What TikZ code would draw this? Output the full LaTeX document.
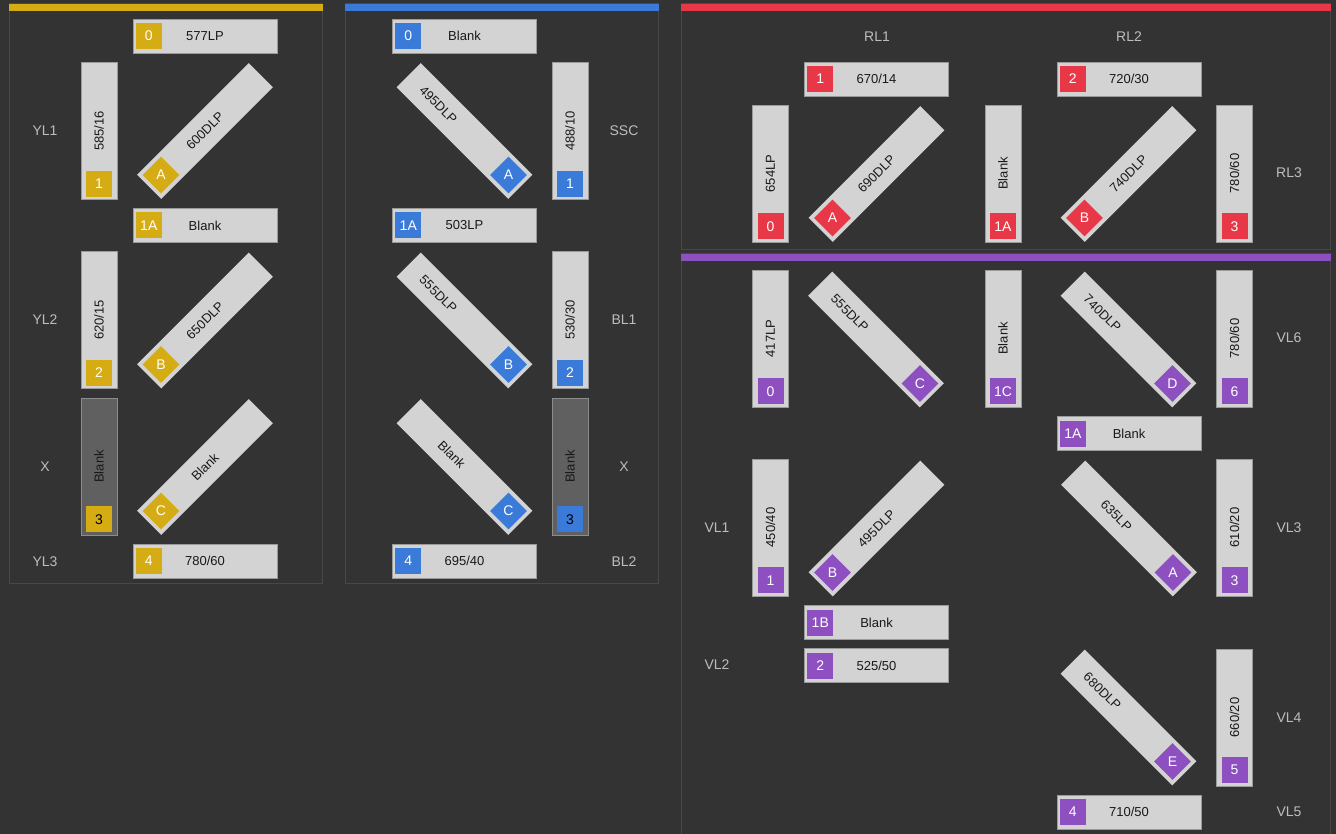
\documentclass[tikz,border=0pt]{standalone}
\usepackage{fontspec}
\setmainfont{Liberation Sans}
\usepackage{tikz}
\usetikzlibrary{calc,shapes.geometric}
\definecolor{bg}{HTML}{333333}
\definecolor{frame}{HTML}{484848}
\definecolor{soft}{HTML}{D3D3D3}
\definecolor{softline}{HTML}{9A9A9A}
\definecolor{blankfill}{HTML}{606060}
\definecolor{lanetext}{HTML}{BDBDBD}
\definecolor{laneY}{HTML}{D6AC14}
\definecolor{laneB}{HTML}{3A7AD9}
\definecolor{laneR}{HTML}{E83848}
\definecolor{laneV}{HTML}{8E50C0}

\begin{document}
\begin{tikzpicture}[x=1pt,y=-1pt,
  every node/.style={inner sep=0pt,text=black!90,font=\fontsize{13}{15}\selectfont},
  hbox/.style={draw=softline,fill=soft,minimum width=144pt,minimum height=34pt},
  vbox/.style={hbox,minimum width=137pt,minimum height=36pt,rotate=90},
  dark/.style={fill=blankfill,draw=black!45},
  dbox/.style={fill=soft,minimum width=158pt,minimum height=34pt,rotate=#1},
  badge/.style={fill=#1,minimum size=26pt,text=white,font=\fontsize{14}{16}\selectfont},
  dbadge/.style={badge=#1,diamond,minimum size=37pt},
  lane/.style={text=lanetext,font=\fontsize{14}{16}\selectfont},
  panel/.style={draw=frame,line width=1pt}]
  \useasboundingbox[fill=bg] (0,0) rectangle (1336,834);

  % panels
  \draw[panel] (9.5,4) rectangle (322.5,583.5);
  \fill[laneY] (9,4) rectangle (323,11);
  \draw[panel] (345.5,4) rectangle (658.5,583.5);
  \fill[laneB] (345,4) rectangle (659,11);
  \draw[panel] (681.5,4) rectangle (1330.5,249.5);
  \fill[laneR] (681,4) rectangle (1331,11);
  \draw[panel] (681.5,845) -- (681.5,254) -- (1330.5,254) -- (1330.5,845);
  \fill[laneV] (681,254) rectangle (1331,261);

  % yellow
  \node[hbox] (y0) at (205,36) {577LP};
  \node[badge=laneY] (y0b) at ($(y0.west)!16pt!(y0.east)$) {0};
  \node[vbox] (y1) at (99,131) {585/16};
  \node[badge=laneY] (y1b) at ($(y1.west)!16pt!(y1.east)$) {1};
  \node[dbox=45] (yA) at (205,131) {600DLP};
  \node[dbadge=laneY] (yAb) at ($(yA.west)!17pt!(yA.east)$) {A};
  \node[hbox] (y1A) at (205,225.5) {Blank};
  \node[badge=laneY] (y1Ab) at ($(y1A.west)!16pt!(y1A.east)$) {1A};
  \node[vbox] (y2) at (99,320) {620/15};
  \node[badge=laneY] (y2b) at ($(y2.west)!16pt!(y2.east)$) {2};
  \node[dbox=45] (yB) at (205,320.5) {650DLP};
  \node[dbadge=laneY] (yBb) at ($(yB.west)!17pt!(yB.east)$) {B};
  \node[vbox,dark] (y3) at (99,466.5) {Blank};
  \node[badge=laneY,text=black] (y3b) at ($(y3.west)!16pt!(y3.east)$) {3};
  \node[dbox=45] (yC) at (205,467) {Blank};
  \node[dbadge=laneY] (yCb) at ($(yC.west)!17pt!(yC.east)$) {C};
  \node[hbox] (y4) at (205,561) {780/60};
  \node[badge=laneY] (y4b) at ($(y4.west)!16pt!(y4.east)$) {4};
  \node[lane] (yl1) at (45,131) {YL1};
  \node[lane] (yl2) at (45,320) {YL2};
  \node[lane] (yx) at (45,467) {X};
  \node[lane] (yl3) at (45,562) {YL3};

  % blue
  \node[hbox] (b0) at (464.5,36) {Blank};
  \node[badge=laneB] (b0b) at ($(b0.west)!16pt!(b0.east)$) {0};
  \node[dbox=-45] (bA) at (464.5,131) {};
  \node[rotate=-45] (bAt) at ($(bA.center)!37pt!(bA.west)$) {495DLP};
  \node[dbadge=laneB] (bAb) at ($(bA.east)!17pt!(bA.west)$) {A};
  \node[vbox] (b1) at (570,131) {488/10};
  \node[badge=laneB] (b1b) at ($(b1.west)!16pt!(b1.east)$) {1};
  \node[hbox] (b1A) at (464.5,225.5) {503LP};
  \node[badge=laneB] (b1Ab) at ($(b1A.west)!16pt!(b1A.east)$) {1A};
  \node[dbox=-45] (bB) at (464.5,320.5) {};
  \node[rotate=-45] (bBt) at ($(bB.center)!37pt!(bB.west)$) {555DLP};
  \node[dbadge=laneB] (bBb) at ($(bB.east)!17pt!(bB.west)$) {B};
  \node[vbox] (b2) at (570,320) {530/30};
  \node[badge=laneB] (b2b) at ($(b2.west)!16pt!(b2.east)$) {2};
  \node[dbox=-45] (bC) at (464.5,467) {};
  \node[rotate=-45] (bCt) at ($(bC.center)!18pt!(bC.west)$) {Blank};
  \node[dbadge=laneB] (bCb) at ($(bC.east)!17pt!(bC.west)$) {C};
  \node[vbox,dark] (b3) at (570,466.5) {Blank};
  \node[badge=laneB,text=black] (b3b) at ($(b3.west)!16pt!(b3.east)$) {3};
  \node[hbox] (b4) at (464.5,561) {695/40};
  \node[badge=laneB] (b4b) at ($(b4.west)!16pt!(b4.east)$) {4};
  \node[lane] (ssc) at (624,131) {SSC};
  \node[lane] (bl1) at (624,320) {BL1};
  \node[lane] (bx) at (624,467) {X};
  \node[lane] (bl2) at (624,562) {BL2};

  % red
  \node[lane] (rl1) at (877,37) {RL1};
  \node[lane] (rl2) at (1129,37) {RL2};
  \node[lane] (rl3) at (1289,173) {RL3};
  \node[hbox] (r1) at (876.5,79) {670/14};
  \node[badge=laneR] (r1b) at ($(r1.west)!16pt!(r1.east)$) {1};
  \node[hbox] (r2) at (1129,79) {720/30};
  \node[badge=laneR] (r2b) at ($(r2.west)!16pt!(r2.east)$) {2};
  \node[vbox] (r0) at (770.5,173.5) {654LP};
  \node[badge=laneR] (r0b) at ($(r0.west)!16pt!(r0.east)$) {0};
  \node[dbox=45] (rA) at (876.5,174) {690DLP};
  \node[dbadge=laneR] (rAb) at ($(rA.west)!17pt!(rA.east)$) {A};
  \node[vbox] (r1A) at (1003,173.5) {Blank};
  \node[badge=laneR] (r1Ab) at ($(r1A.west)!16pt!(r1A.east)$) {1A};
  \node[dbox=45] (rB) at (1128.5,174) {740DLP};
  \node[dbadge=laneR] (rBb) at ($(rB.west)!17pt!(rB.east)$) {B};
  \node[vbox] (r3) at (1234.5,173.5) {780/60};
  \node[badge=laneR] (r3b) at ($(r3.west)!16pt!(r3.east)$) {3};

  % violet
  \node[vbox] (v0) at (770.5,338.5) {417LP};
  \node[badge=laneV] (v0b) at ($(v0.west)!16pt!(v0.east)$) {0};
  \node[dbox=-45] (vC) at (876,339.5) {};
  \node[rotate=-45] (vCt) at ($(vC.center)!37pt!(vC.west)$) {555DLP};
  \node[dbadge=laneV] (vCb) at ($(vC.east)!17pt!(vC.west)$) {C};
  \node[vbox] (v1C) at (1003,338.5) {Blank};
  \node[badge=laneV] (v1Cb) at ($(v1C.west)!16pt!(v1C.east)$) {1C};
  \node[dbox=-45] (vD) at (1128.5,339.5) {};
  \node[rotate=-45] (vDt) at ($(vD.center)!37pt!(vD.west)$) {740DLP};
  \node[dbadge=laneV] (vDb) at ($(vD.east)!17pt!(vD.west)$) {D};
  \node[vbox] (v6) at (1234.5,338.5) {780/60};
  \node[badge=laneV] (v6b) at ($(v6.west)!16pt!(v6.east)$) {6};
  \node[hbox] (v1A) at (1129,433.5) {Blank};
  \node[badge=laneV] (v1Ab) at ($(v1A.west)!16pt!(v1A.east)$) {1A};
  \node[vbox] (v1) at (770.5,527.5) {450/40};
  \node[badge=laneV] (v1b) at ($(v1.west)!16pt!(v1.east)$) {1};
  \node[dbox=45] (vB) at (876.5,528.5) {495DLP};
  \node[dbadge=laneV] (vBb) at ($(vB.west)!17pt!(vB.east)$) {B};
  \node[dbox=-45] (vA) at (1129,528.5) {};
  \node[rotate=-45] (vAt) at ($(vA.center)!18pt!(vA.west)$) {635LP};
  \node[dbadge=laneV] (vAb) at ($(vA.east)!17pt!(vA.west)$) {A};
  \node[vbox] (v3) at (1234.5,527.5) {610/20};
  \node[badge=laneV] (v3b) at ($(v3.west)!16pt!(v3.east)$) {3};
  \node[hbox] (v1B) at (876.5,622.5) {Blank};
  \node[badge=laneV] (v1Bb) at ($(v1B.west)!16pt!(v1B.east)$) {1B};
  \node[hbox] (v2) at (876.5,665.5) {525/50};
  \node[badge=laneV] (v2b) at ($(v2.west)!16pt!(v2.east)$) {2};
  \node[dbox=-45] (vE) at (1128.5,717.5) {};
  \node[rotate=-45] (vEt) at ($(vE.center)!37pt!(vE.west)$) {680DLP};
  \node[dbadge=laneV] (vEb) at ($(vE.east)!17pt!(vE.west)$) {E};
  \node[vbox] (v5) at (1234.5,717.5) {660/20};
  \node[badge=laneV] (v5b) at ($(v5.west)!16pt!(v5.east)$) {5};
  \node[hbox] (v4) at (1129,812) {710/50};
  \node[badge=laneV] (v4b) at ($(v4.west)!16pt!(v4.east)$) {4};
  \node[lane] (vl1) at (717,528) {VL1};
  \node[lane] (vl2) at (717,665) {VL2};
  \node[lane] (vl3) at (1289,528) {VL3};
  \node[lane] (vl4) at (1289,718) {VL4};
  \node[lane] (vl5) at (1289,812) {VL5};
  \node[lane] (vl6) at (1289,338) {VL6};
\end{tikzpicture}
\end{document}
